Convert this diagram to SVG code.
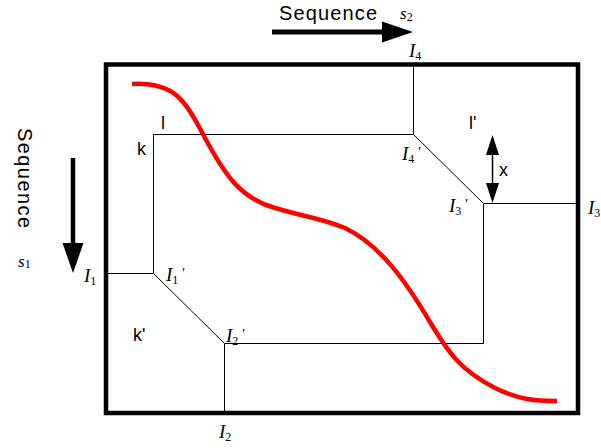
<svg xmlns="http://www.w3.org/2000/svg" width="601" height="448" viewBox="0 0 601 448">
<style>
.thin{fill:none;stroke:#000;stroke-width:1}
.ar{font-family:"Liberation Sans",Arial,sans-serif;fill:#000}
.tm{font-family:"Liberation Serif","Times New Roman",serif;font-style:italic;fill:#000;font-size:19px}
.ts{font-family:"Liberation Serif","Times New Roman",serif;font-style:italic;fill:#000;font-size:17px}
.sb{font-style:normal;font-size:12px}
.pr{font-size:14px}
</style>
<rect width="601" height="448" fill="#fff"/>
<g id="frame">
<rect x="106" y="64.5" width="472" height="348.5" fill="none" stroke="#000" stroke-width="4.5"/>
</g>
<g id="region">
<polyline class="thin" points="413.5,134.5 483.5,203.5 483.5,343.5 224.5,343.5 153.5,273.5 153.5,134.5 413.5,134.5"/>
</g>
<g id="connectors">
<line class="thin" x1="413.5" y1="65" x2="413.5" y2="134.5"/>
<line class="thin" x1="483.5" y1="203.5" x2="578" y2="203.5"/>
<line class="thin" x1="106" y1="273.5" x2="153.5" y2="273.5"/>
<line class="thin" x1="224.5" y1="343.5" x2="224.5" y2="412"/>
<line x1="272" y1="32" x2="384" y2="32" stroke="#000" stroke-width="5"/>
<polygon points="382,21.5 413,32 382,42.5" fill="#000"/>
<line x1="73" y1="158" x2="73" y2="245" stroke="#000" stroke-width="4.5"/>
<polygon points="62.5,243 83.5,243 73,273" fill="#000"/>
<line x1="492.5" y1="150" x2="492.5" y2="190" stroke="#000" stroke-width="1.5"/>
<polygon points="492.5,135 499,155 486,155" fill="#000"/>
<polygon points="492.5,203 499,183 486,183" fill="#000"/>
</g>
<g id="curve">
<path d="M132,84 C175,82 185,100 205,138 C225,175 240,198 275,208 C305,217 320,218 345,228 C380,245 405,280 430,322 C448,352 460,370 495,388 C520,400 535,401 557,401" fill="none" stroke="#f00" stroke-width="4.5"/>
</g>
<g id="labels">
<text class="ar" x="279" y="20" font-size="20" textLength="98">Sequence</text>
<text class="ts" x="400" y="19">s<tspan class="sb" dy="2">2</tspan></text>
<text class="ar" font-size="20" textLength="100" transform="translate(18,128) rotate(90)">Sequence</text>
<text class="ts" x="18" y="267">s<tspan class="sb" dy="1">1</tspan></text>
<text class="tm" x="409" y="57">I<tspan class="sb" dy="3">4</tspan></text>
<text class="tm" x="402" y="160">I<tspan class="sb" dy="3">4</tspan><tspan class="pr" dx="3" dy="-6">'</tspan></text>
<text class="tm" x="449" y="212">I<tspan class="sb" dy="3">3</tspan><tspan class="pr" dx="3" dy="-6">'</tspan></text>
<text class="tm" x="588" y="214">I<tspan class="sb" dy="3">3</tspan></text>
<text class="tm" x="84" y="282">I<tspan class="sb" dy="3">1</tspan></text>
<text class="tm" x="166" y="281">I<tspan class="sb" dy="3">1</tspan><tspan class="pr" dx="3" dy="-6">'</tspan></text>
<text class="tm" x="226" y="342">I<tspan class="sb" dy="3">2</tspan><tspan class="pr" dx="3" dy="-6">'</tspan></text>
<text class="tm" x="219" y="438">I<tspan class="sb" dy="3">2</tspan></text>
<text class="ar" x="161" y="129" font-size="18">l</text>
<text class="ar" x="137" y="155" font-size="18">k</text>
<text class="ar" x="469" y="129" font-size="18">l'</text>
<text class="ar" x="133" y="341" font-size="18">k'</text>
<text class="ar" x="499" y="176" font-size="18">x</text>
</g>
</svg>
